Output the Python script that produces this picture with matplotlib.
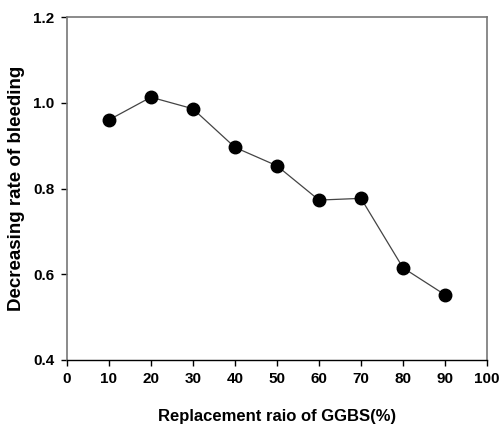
import matplotlib
matplotlib.use('Agg')
import matplotlib.pyplot as plt

ggbs_ratio = [10, 20, 30, 40, 50, 60, 70, 80, 90]
bleeding_rate = [0.960, 1.013, 0.986, 0.896, 0.853, 0.773, 0.777, 0.615, 0.552]
x_ticks = [0, 10, 20, 30, 40, 50, 60, 70, 80, 90, 100]
y_ticks = [0.4, 0.6, 0.8, 1.0, 1.2]

plt.rcParams['font.family'] = ['Liberation Sans', 'DejaVu Sans']
plt.rcParams['font.weight'] = 'bold'

fig = plt.figure(figsize=(4.99, 4.26), dpi=100)
ax = fig.add_axes([0.134, 0.155, 0.842, 0.805])

ax.plot(ggbs_ratio, bleeding_rate, color='#444444', linewidth=0.9,
        marker='o', markersize=9, markerfacecolor='black', markeredgecolor='black')

ax.set_xlim(0, 100)
ax.set_ylim(0.4, 1.2)
ax.set_xticks(x_ticks)
ax.set_yticks(y_ticks)
ax.set_yticklabels([f'{v:.1f}' for v in y_ticks])
ax.tick_params(direction='out', length=4, width=1, labelsize=11, pad=5)

for side in ['left', 'top', 'right']:
    ax.spines[side].set_color('#777777')
    ax.spines[side].set_linewidth(1.2)
ax.spines['bottom'].set_color('black')
ax.spines['bottom'].set_linewidth(1.0)

ax.set_xlabel('Replacement raio of GGBS(%)', fontsize=12, fontweight='bold', labelpad=16)
ax.set_ylabel('Decreasing rate of bleeding', fontsize=13.5, fontweight='bold', labelpad=6)

fig.savefig('out.png', dpi=100)
